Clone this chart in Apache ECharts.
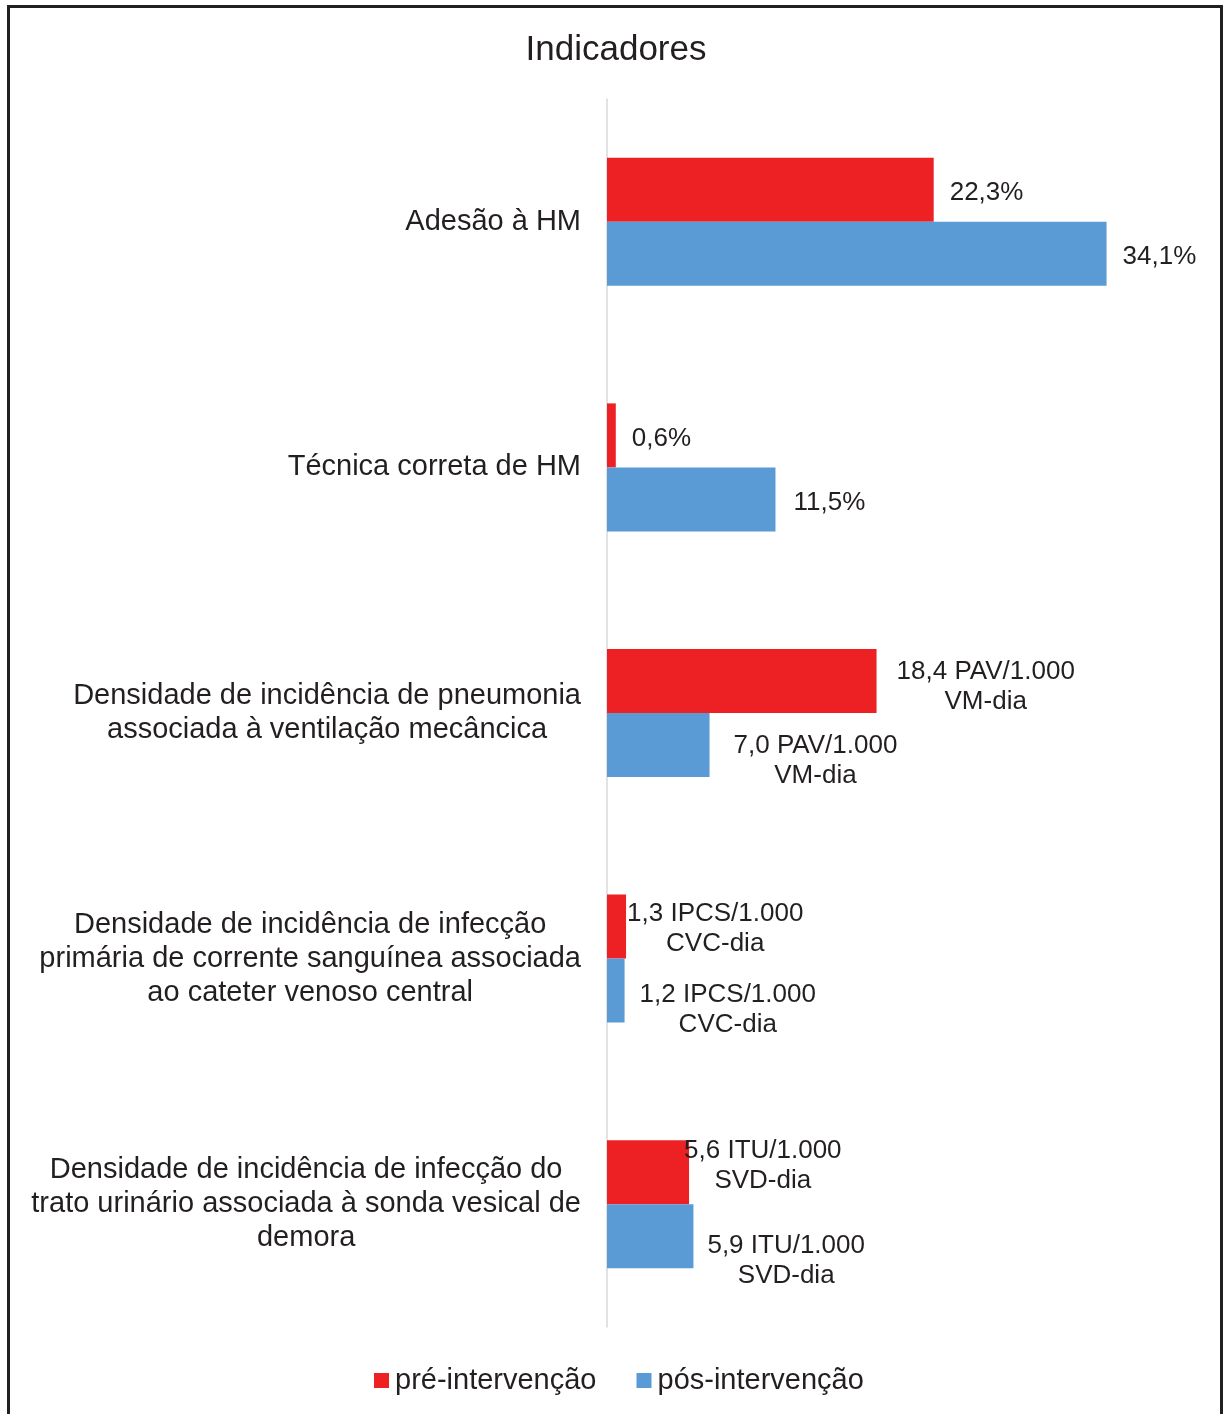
<!DOCTYPE html>
<html>
<head>
<meta charset="utf-8">
<script src="https://cdn.jsdelivr.net/npm/echarts@6/dist/echarts.min.js"></script>
<style>
html,body{margin:0;padding:0;background:#fff;}
#chart{width:1224px;height:1414px;}
</style>
</head>
<body>
<div id="chart"></div>
<script>
// ---- data ----
const categories = [
  'Adesão à HM',
  'Técnica correta de HM',
  'Densidade de incidência de pneumonia\nassociada à ventilação mecâncica',
  'Densidade de incidência de infecção\nprimária de corrente sanguínea associada\nao cateter venoso central',
  'Densidade de incidência de infecção do\ntrato urinário associada à sonda vesical de\ndemora'
];
const seriesNames = ['pré-intervenção', 'pós-intervenção'];
const preValues = [22.3, 0.6, 18.4, 1.3, 5.6];
const postValues = [34.1, 11.5, 7.0, 1.2, 5.9];
const unitSuffix = ['%', '%', ' PAV/1.000\nVM-dia', ' IPCS/1.000\nCVC-dia', ' ITU/1.000\nSVD-dia'];
const chartTitle = 'Indicadores';

// ---- styling / layout ----
const FONT = '"Liberation Sans", Arial, Helvetica, sans-serif';
const INK = '#231f20';
const RED = '#ED2024';
const BLUE = '#5B9BD5';
// manual label nudges [dx, dy] (like hand-moved labels in the original)
const preNudges = [[0, 3], [0, 3], [4, 6], [-15, 2], [-21, -6]];
const postNudges = [[0, 3], [2, 3], [8, 16], [-1, 19], [-2, 25]];

function fmtLabel(v, i) {
  const txt = v.toFixed(1).replace('.', ',') + unitSuffix[i];
  return txt.split('\n').map(s => '{c|' + s + '}').join('\n');
}

function buildData(values, nudges) {
  return values.map((v, i) => ({
    value: v,
    label: { offset: nudges[i] }
  }));
}

const labelCommon = {
  show: true,
  position: 'right',
  distance: 16,
  formatter: p => fmtLabel(p.value, p.dataIndex),
  rich: {
    c: { align: 'center', fontSize: 26, lineHeight: 30, color: INK, fontFamily: FONT }
  }
};

const chart = echarts.init(document.getElementById('chart'), null, { renderer: 'canvas' });
chart.setOption({
  backgroundColor: '#ffffff',
  animation: false,
  title: {
    text: chartTitle,
    left: 611,
    textAlign: 'center',
    top: 28,
    textStyle: { fontFamily: FONT, fontSize: 35, fontWeight: 'normal', color: INK }
  },
  graphic: [{
    type: 'rect',
    shape: { x: 8.5, y: 6.5, width: 1213, height: 1430 },
    style: { fill: 'none', stroke: INK, lineWidth: 3 },
    silent: true,
    z: 100
  }],
  legend: {
    data: seriesNames,
    left: 369,
    top: 1361,
    icon: 'rect',
    itemWidth: 15,
    itemHeight: 15,
    itemGap: 40,
    textStyle: { fontFamily: FONT, fontSize: 29, color: INK, padding: [0, 0, 0, 1] }
  },
  grid: { left: 607, right: 31, top: 99, bottom: 87, containLabel: false },
  xAxis: {
    type: 'value',
    min: 0,
    max: 40,
    show: false,
    splitLine: { show: false }
  },
  yAxis: {
    type: 'category',
    inverse: true,
    data: categories,
    axisLine: { show: true, lineStyle: { color: '#d9d9d9', width: 1.5 } },
    axisTick: { show: false },
    axisLabel: {
      margin: 26,
      align: 'right',
      formatter: s => s.split('\n').map(l => '{c|' + l + '}').join('\n'),
      rich: {
        c: { align: 'center', fontSize: 29, lineHeight: 34, color: INK, fontFamily: FONT }
      }
    }
  },
  series: [
    {
      name: seriesNames[0],
      type: 'bar',
      data: buildData(preValues, preNudges),
      itemStyle: { color: RED },
      barWidth: 64,
      barGap: '0%',
      label: labelCommon
    },
    {
      name: seriesNames[1],
      type: 'bar',
      data: buildData(postValues, postNudges),
      itemStyle: { color: BLUE },
      barWidth: 64,
      barGap: '0%',
      label: labelCommon
    }
  ]
});
</script>
</body>
</html>
